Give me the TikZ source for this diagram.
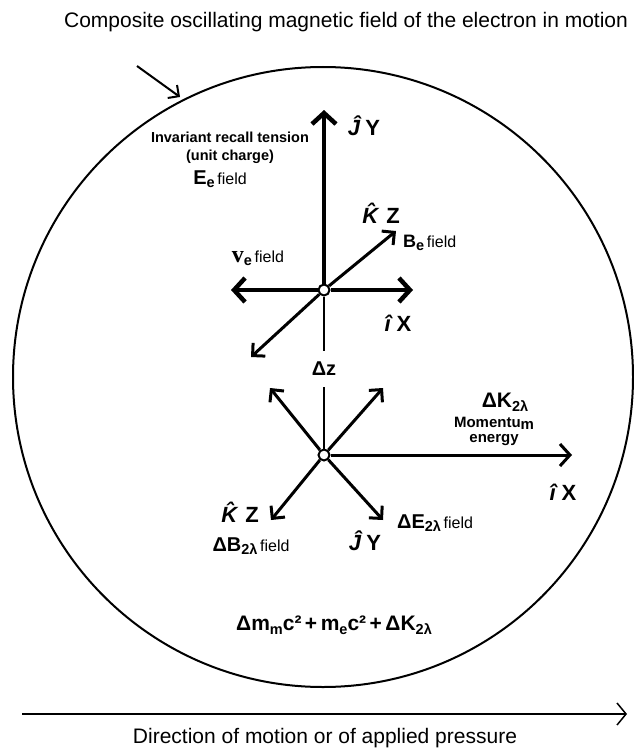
\documentclass[tikz,border=0pt]{standalone}
\usepackage{fontspec}
\setmainfont{Liberation Sans}
\newfontfamily\serifv{Liberation Serif}
\usetikzlibrary{arrows.meta}
\newcommand{\fs}[1]{\fontsize{#1}{#1}\selectfont}
\newcommand{\lsub}[1]{\raisebox{-0.35ex}{\fs{14.5}#1}}
\begin{document}
\begin{tikzpicture}[x=1pt,y=-1pt,font=\bfseries\fs{16},
  axis/.style={line width=4.5pt,-{Straight Barb[length=11pt,width=24pt]}},
  leg/.style={line width=3pt,-{Straight Barb[length=9pt,width=18pt,sharp]}},
  thinline/.style={line width=2pt},
  origin/.style={draw,circle,line width=2pt,fill=white,inner sep=0pt,minimum size=11pt},
  lbl/.style={inner sep=0pt},
  big/.style={lbl,font=\bfseries\fs{22}}]
  \useasboundingbox (0,0) rectangle (633,752);
  % frame: field circle and direction of motion
  \node[lbl,font=\fs{21}] (title) at (346,22) {Composite oscillating magnetic field of the electron in motion};
  \draw[line width=2pt] (323,377) circle (310);
  \coordinate (pA) at (137,66);
  \coordinate (pB) at (180,97);
  \draw[line width=2pt,-{Straight Barb[length=8pt,width=16pt,sharp]}] (pA) -- (pB);
  \coordinate (mA) at (22,714);
  \coordinate (mB) at (627,714);
  \draw[line width=1.5pt,-{Straight Barb[length=9pt,width=22pt]}] (mA) -- (mB);
  \node[lbl,font=\fs{21}] (motion) at (325,738) {Direction of motion or of applied pressure};
  % upper cross
  \node[origin] (oU) at (324,290) {};
  \coordinate (uY) at (324,110);
  \coordinate (uL) at (231,290);
  \coordinate (uX) at (413,290);
  \coordinate (uZ) at (396,231);
  \coordinate (uZm) at (251,357);
  \draw[axis] (oU) -- (uY);
  \draw[axis] (oU) -- (uL);
  \draw[axis] (oU) -- (uX);
  \draw[leg] (oU) -- (uZ);
  \draw[leg] (oU) -- (uZm);
  \node[big] (lJu) at (364,126) {\textit{Ĵ}\,Y};
  \node[big] (lIu) at (398,323) {\textit{î}\,X};
  \node[big] (lKu) at (381,213) {\textit{\^{K}}\,Z};
  \node[lbl,anchor=west] (lB) at (403,243) {{\fs{18}B}\lsub{e}\,{\mdseries field}};
  \node[lbl] (lV) at (258,258) {{\serifv\fs{24}v}\lsub{e}\,{\mdseries field}};
  \node[lbl,font=\bfseries\fs{14.5},align=center] (lT) at (230,148) {Invariant recall tension\\[3pt](unit charge)};
  \node[lbl] (lE) at (220,179) {{\fs{20}E}\lsub{e}\,{\mdseries field}};
  % lower cross
  \node[origin] (oL) at (324,455) {};
  \node[lbl,font=\bfseries\fs{20},inner ysep=11pt] (dz) at (324,369) {Δz};
  \draw[thinline] (oU) -- (dz.north);
  \draw[thinline] (dz.south) -- (oL);
  \coordinate (lUL) at (270,388);
  \coordinate (lUR) at (383,388);
  \coordinate (lDL) at (271,520);
  \coordinate (lDR) at (383,520);
  \coordinate (lX) at (572,455);
  \draw[leg] (oL) -- (lUL);
  \draw[leg] (oL) -- (lUR);
  \draw[leg] (oL) -- (lDL);
  \draw[leg] (oL) -- (lDR);
  \draw[line width=3pt,-{Straight Barb[length=10pt,width=22pt]}] (oL) -- (lX);
  \node[lbl,font=\bfseries\fs{21}] (lDK) at (505,402) {ΔK\lsub{2λ}};
  \node[lbl,font=\bfseries\fs{15},align=center] (lM) at (494,431) {Momentu\raisebox{-0.3ex}{m}\\[0pt]energy};
  \node[big] (lIl) at (563,492) {\textit{î}\,X};
  \node[big] (lKl) at (240,512) {\textit{\^{K}}\,Z};
  \node[big] (lJl) at (365,541) {\textit{Ĵ}\,Y};
  \node[lbl] (lDB) at (251,546) {{\fs{20}ΔB}\lsub{2λ}\,{\mdseries field}};
  \node[lbl,anchor=west] (lDE) at (397,523) {{\fs{20}ΔE}\lsub{2λ}\,{\mdseries field}};
  \node[lbl,font=\bfseries\fs{21}] (form) at (334,625) {Δm\lsub{m}c²\,+\,m\lsub{e}c²\,+\,ΔK\lsub{2λ}};
\end{tikzpicture}
\end{document}
